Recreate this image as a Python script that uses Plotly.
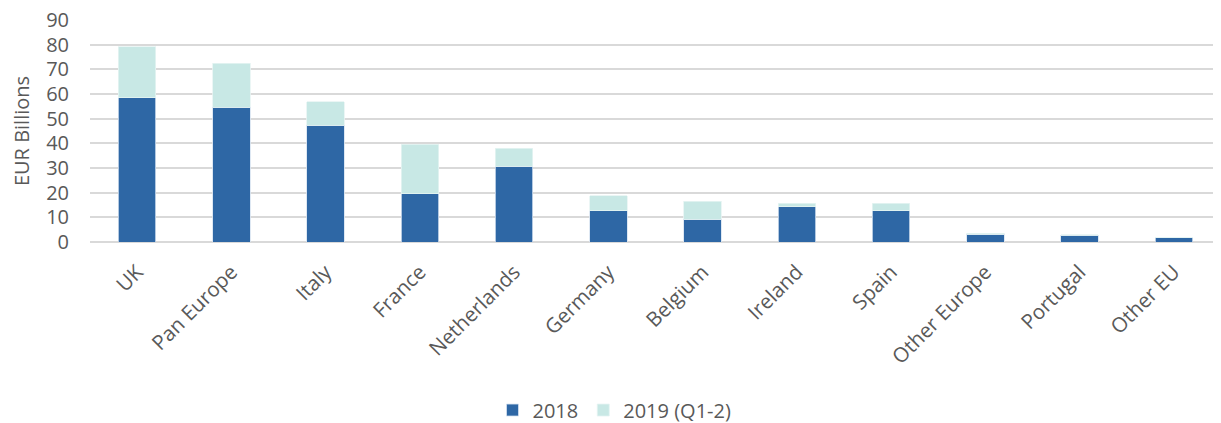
import plotly.graph_objects as go

categories = ["UK", "Pan Europe", "Italy", "France", "Netherlands", "Germany",
              "Belgium", "Ireland", "Spain", "Other Europe", "Portugal", "Other EU"]
values_2018 = [58.5, 54.7, 47.3, 19.5, 30.7, 12.6, 9.3, 14.3, 12.7, 3.1, 2.8, 1.7]
values_2019 = [20.7, 17.7, 9.5, 20.2, 7.4, 6.2, 7.2, 1.5, 3.1, 0.4, 0.1, 0.05]
y_ticks = [0, 10, 20, 30, 40, 50, 60, 70, 80, 90]

font_family = "Open Sans, Liberation Sans, sans-serif"
grey = "#595959"

fig = go.Figure()
fig.add_trace(go.Bar(x=categories, y=values_2018, name="2018",
                     marker=dict(color="#2E67A5", line=dict(color="#D6E2F0", width=0.8))))
fig.add_trace(go.Bar(x=categories, y=values_2019, name="2019 (Q1-2)",
                     marker=dict(color="#C8E8E5", line=dict(color="#E6F4F2", width=0.8))))

# the page has an 8px body margin; the figure is sized/offset to compensate
fig.update_layout(
    barmode="stack",
    bargap=0.6,
    width=1213, height=415,
    margin=dict(l=82, r=0, t=12, b=181, autoexpand=False),
    paper_bgcolor="white", plot_bgcolor="white",
    font=dict(family=font_family, color=grey, size=20),
    showlegend=True,
    legend=dict(orientation="h", xref="container", x=0.5, xanchor="center",
                y=-0.757, yanchor="middle",
                font=dict(size=20, color=grey), traceorder="normal", itemwidth=30),
    xaxis=dict(tickangle=-45, tickfont=dict(size=20.5, color=grey), showgrid=False,
               showline=False, ticks="", automargin=False, ticklabelstandoff=13),
    yaxis=dict(range=[0, 90], tickvals=y_ticks, showgrid=True, gridcolor="#D9D9D9",
               gridwidth=1.5, zeroline=True, zerolinecolor="#D9D9D9", zerolinewidth=1.5,
               tickfont=dict(size=20, color=grey), ticks="", ticklen=0,
               ticklabelstandoff=20, automargin=False, ticklabeloverflow="allow",
               title=dict(text="EUR Billions", font=dict(size=20, color=grey), standoff=11)),
)

fig.write_html("out.html")
